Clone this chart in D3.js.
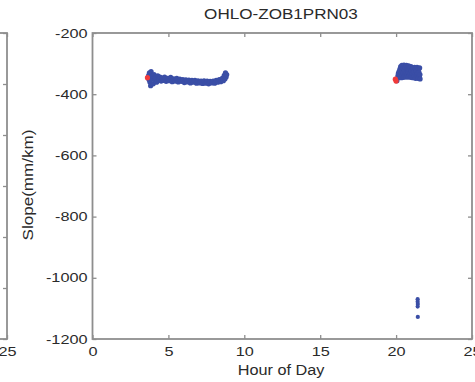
<!DOCTYPE html>
<html>
<head>
<meta charset="utf-8">
<script src="https://cdn.jsdelivr.net/npm/d3@7"></script>
<style>
  body { margin: 0; background: #fff; }
  svg { display: block; }
  text { font-family: 'Liberation Sans', Arial, sans-serif; fill: #2a2a2a; }
</style>
</head>
<body>
<div id="container"></div>
<script>
/* DATA */
var title = 'OHLO-ZOB1PRN03'
var xTicks = [0, 5, 10, 15, 20, 25]
var yTicks = [-200, -400, -600, -800, -1000, -1200]
var leftPanelXTicks = [25]   // only the last label of the neighbouring panel is in view

// morning pass (blue dots), hours and slope in mm/km
var amHour = [3.70,3.72,3.75,3.78,3.80,3.83,3.86,3.90,3.95,4.00,4.05,4.10,4.15,4.22,4.30,4.38,4.45,4.52,4.60,4.68,
              4.75,4.85,4.95,5.05,5.15,5.25,5.35,5.45,5.55,5.65,5.75,5.85,5.95,6.05,6.15,6.25,6.35,6.45,6.55,6.65,
              6.75,6.85,6.95,7.05,7.15,7.25,7.35,7.45,7.55,7.65,7.75,7.85,7.95,8.05,8.15,8.25,8.35,8.45,8.55,8.62,
              8.68,8.72,8.76,8.80,8.84]
var amSlope = [-338,-352,-330,-360,-345,-372,-326,-350,-341,-366,-336,-355,-346,-361,-340,-352,-344,-357,-347,-355,
               -344,-358,-348,-356,-345,-359,-350,-357,-348,-360,-351,-358,-352,-362,-353,-360,-354,-363,-355,-361,
               -355,-364,-356,-363,-357,-365,-356,-364,-357,-366,-358,-363,-357,-364,-355,-361,-352,-359,-348,-356,
               -338,-350,-330,-344,-336]

// evening pass (blue dots)
var pmHour = [20.05,20.10,20.12,20.15,20.20,20.22,20.25,20.28,20.30,20.33,20.35,20.38,20.40,20.42,20.45,20.48,20.50,20.52,20.55,20.58,
              20.60,20.63,20.66,20.68,20.70,20.73,20.76,20.78,20.80,20.83,20.86,20.88,20.90,20.93,20.96,20.98,21.00,21.03,21.06,21.08,
              21.10,21.13,21.16,21.19,21.22,21.25,21.28,21.30,21.33,21.36,21.38,21.41,21.44,21.47,21.50,21.53,21.55,21.57,21.58]
var pmSlope = [-356,-348,-340,-332,-325,-345,-318,-338,-310,-330,-346,-306,-322,-338,-314,-330,-345,-305,-322,-338,
               -312,-328,-344,-306,-320,-336,-314,-328,-344,-307,-322,-338,-312,-330,-345,-310,-324,-338,-316,-332,
               -346,-314,-326,-340,-312,-330,-348,-315,-325,-340,-312,-332,-348,-318,-328,-342,-314,-336,-350]

// outliers at the end of the evening pass
var outHour = [21.42, 21.42, 21.43, 21.42, 21.43]
var outSlope = [-1070, -1078, -1086, -1094, -1128]

// start-of-pass markers (red)
var startHour = [3.62, 19.95, 20.00]
var startSlope = [-346, -351, -357]

var blue = '#3a4ea6'
var red = '#f03a3a'
var axisColor = '#8e8e8e'

/* SET UP */
var width = 475, height = 382
var svg = d3.select('#container').append('svg').attr('width', width).attr('height', height)

var x = d3.scaleLinear().domain([0, 25]).range([92.5, 472])
var y = d3.scaleLinear().domain([-1200, -200]).range([339, 33])

// neighbouring panel, only its right edge shows
var xLeft = d3.scaleLinear().domain([0, 25]).range([92.5 - 465, 7])
var yLeft = d3.scaleLinear().domain([0, 6]).range([339, 33])

function stretch(sel, k)
{
    sel.each(function() {
        var t = d3.select(this)
        t.attr('textLength', this.getComputedTextLength() * k).attr('lengthAdjust', 'spacingAndGlyphs')
    })
}

function styleAxis(g)
{
    g.select('.domain').remove()
    g.selectAll('line').attr('stroke', axisColor).attr('stroke-width', 1.3)
    g.selectAll('text').style('font-size', '13px').attr('fill', '#2a2a2a')
}

var plain = function(d) { return String(d) }

function drawPanel(xs, ys, xVals, yVals, labels)
{
    var gb = svg.append('g').attr('transform', 'translate(0,' + ys.range()[0] + ')')
        .call(d3.axisBottom(xs).tickValues(xVals).tickSizeInner(-4).tickSizeOuter(0).tickPadding(8).tickFormat(plain))
    styleAxis(gb)
    svg.append('g').attr('transform', 'translate(0,' + ys.range()[1] + ')')
        .call(d3.axisTop(xs).tickValues(xVals).tickSizeInner(-4).tickSizeOuter(0).tickFormat(''))
        .call(styleAxis)
    var gl = svg.append('g').attr('transform', 'translate(' + xs.range()[0] + ',0)')
        .call(d3.axisLeft(ys).tickValues(yVals).tickSizeInner(-4).tickSizeOuter(0).tickPadding(5).tickFormat(plain))
    styleAxis(gl)
    if (!labels) gl.selectAll('text').remove()
    svg.append('g').attr('transform', 'translate(' + xs.range()[1] + ',0)')
        .call(d3.axisRight(ys).tickValues(yVals).tickSizeInner(-4).tickSizeOuter(0).tickFormat(''))
        .call(styleAxis)
    svg.append('rect')
        .attr('x', xs.range()[0]).attr('y', ys.range()[1])
        .attr('width', xs.range()[1] - xs.range()[0]).attr('height', ys.range()[0] - ys.range()[1])
        .attr('fill', 'none').attr('stroke', axisColor).attr('stroke-width', 1.8)
    stretch(gb.selectAll('text'), 1.25)
    stretch(gl.selectAll('text'), 1.25)
}

drawPanel(xLeft, yLeft, leftPanelXTicks, d3.range(0, 7), false)
drawPanel(x, y, xTicks, yTicks, true)

/* POINTS */
function dots(hours, slopes, color, r)
{
    svg.append('g').selectAll('circle')
        .data(hours.map(function(h, i) { return [h, slopes[i]] }))
        .enter().append('circle')
        .attr('cx', function(d) { return x(d[0]) })
        .attr('cy', function(d) { return y(d[1]) })
        .attr('r', r)
        .attr('fill', color)
}

dots(amHour, amSlope, blue, 2.6)
dots(pmHour, pmSlope, blue, 2.6)
dots(outHour, outSlope, blue, 2.1)
dots(startHour, startSlope, red, 2.6)

/* LABELS */
svg.append('text').attr('x', 281).attr('y', 19).attr('text-anchor', 'middle')
    .style('font-size', '14px').text(title).call(stretch, 1.22)
svg.append('text').attr('x', 281).attr('y', 375).attr('text-anchor', 'middle')
    .style('font-size', '14px').text('Hour of Day').call(stretch, 1.16)
svg.append('text').attr('transform', 'translate(33,185) rotate(-90)').attr('text-anchor', 'middle')
    .style('font-size', '14px').text('Slope(mm/km)').call(stretch, 1.22)
</script>
</body>
</html>
